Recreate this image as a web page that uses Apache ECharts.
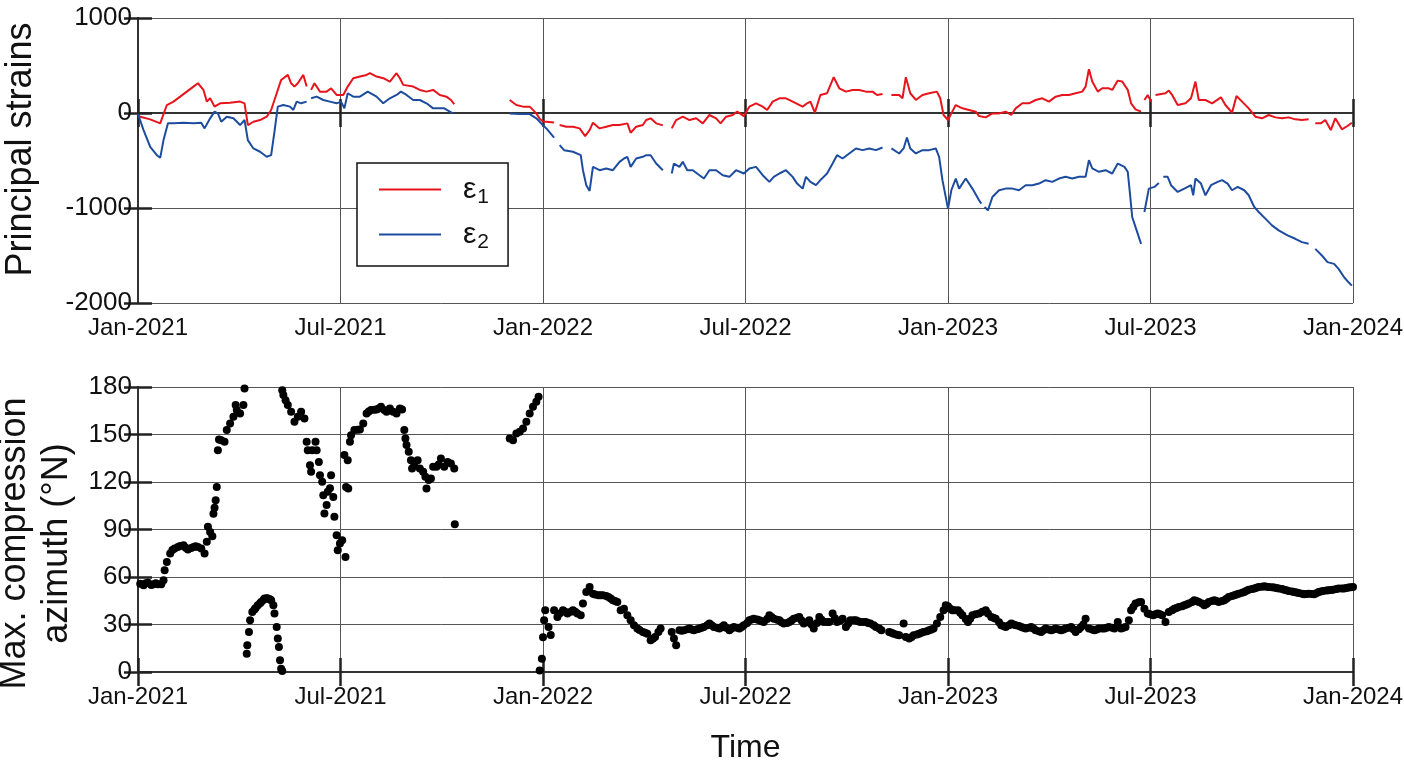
<!DOCTYPE html>
<html>
<head>
<meta charset="utf-8">
<script src="https://cdn.jsdelivr.net/npm/echarts@6/dist/echarts.min.js"></script>
<style>html,body{margin:0;padding:0;background:#fff}#c{width:1404px;height:769px}</style>
</head>
<body>
<div id="c"></div>
<script>
// x values are days since 2021-01-01
const xTickLabels = ['Jan-2021','Jul-2021','Jan-2022','Jul-2022','Jan-2023','Jul-2023','Jan-2024'];
const strainTicks = [-2000, -1000, 0, 1000];
const azimuthTicks = [0, 30, 60, 90, 120, 150, 180];

const eps1 = [[0,-30],[2,-39],[11,-67],[20,-109],[26,84],[32,120],[38,172],[44,225],[50,278],[54,313],[59,243],[62,120],[65,155],[69,67],[74,102],[83,109],[92,120],[96,102],[99,-127],[104,-92],[110,-74],[116,-39],[120,32],[125,208],[129,348],[135,401],[138,313],[141,278],[144,313],[149,401],[152,278],[153,null],[156,243],[159,313],[164,225],[170,225],[174,260],[179,190],[185,190],[189,278],[194,366],[200,384],[206,401],[209,419],[215,384],[221,366],[227,331],[233,419],[236,366],[239,296],[248,278],[254,243],[260,225],[266,243],[272,190],[278,172],[282,137],[285,92],[300,null],
[335,137],[341,84],[347,67],[353,67],[359,-4],[362,-60],[365,-90],[368,-92],[375,-99],[377,null],[380,-127],[386,-144],[392,-144],[398,-162],[403,-243],[407,-180],[410,-102],[416,-162],[422,-144],[428,-127],[434,-127],[441,-109],[444,-208],[449,-144],[455,-127],[458,-74],[462,-56],[467,-109],[473,-130],[478,null],
[481,-162],[485,-74],[491,-39],[497,-74],[503,-56],[509,-109],[515,-21],[521,-56],[525,-109],[530,-39],[536,-21],[540,14],[546,-32],[551,67],[557,102],[563,67],[567,32],[572,120],[578,155],[584,155],[590,120],[599,67],[603,102],[606,120],[610,4],[615,190],[621,208],[627,377],[632,260],[638,225],[644,243],[650,243],[656,225],[662,225],[666,190],[671,201],[675,null],
[679,190],[686,190],[689,155],[692,377],[696,208],[701,137],[707,190],[713,208],[720,225],[723,155],[726,-21],[730,-74],[733,-4],[737,84],[743,49],[749,32],[755,14],[758,-32],[764,-46],[770,-4],[776,-4],[782,14],[787,-21],[791,49],[797,102],[803,102],[809,137],[815,155],[821,120],[827,172],[833,190],[839,190],[845,208],[851,225],[854,278],[857,461],[860,331],[865,225],[869,260],[875,260],[878,243],[883,341],[887,331],[892,243],[895,102],[899,39],[904,14],[905,null],
[907,137],[910,190],[913,120],[915,null],[917,190],[926,208],[929,236],[932,190],[937,84],[944,102],[949,155],[953,331],[956,137],[962,137],[968,102],[976,165],[980,84],[986,4],[990,179],[995,120],[1001,49],[1007,-39],[1013,-56],[1019,-21],[1025,-46],[1031,-56],[1037,-46],[1043,-67],[1049,-74],[1055,-67],[1058,null],
[1061,-109],[1066,-109],[1070,-74],[1075,-180],[1079,-56],[1085,-172],[1090,-137],[1094,-102]];

const eps2 = [[0,-10],[5,-180],[11,-356],[17,-444],[20,-472],[23,-285],[27,-109],[32,-109],[41,-102],[50,-109],[57,-102],[60,-162],[65,-56],[69,14],[72,-4],[75,-92],[80,-39],[86,-56],[92,-127],[96,-74],[99,-285],[104,-373],[110,-408],[116,-461],[120,-444],[123,-197],[126,67],[131,84],[137,67],[140,32],[143,120],[147,102],[152,120],[153,null],[156,155],[161,172],[167,137],[173,120],[179,102],[183,120],[186,49],[189,208],[194,172],[200,172],[207,225],[215,172],[221,102],[227,155],[233,190],[237,225],[242,190],[248,137],[254,137],[260,102],[266,49],[270,49],[276,49],[281,14],[284,-4],[300,null],
[335,-4],[344,-11],[353,-11],[359,-56],[362,-92],[365,-130],[368,-162],[375,-260],[377,null],[380,-338],[384,-391],[392,-408],[399,-444],[401,-602],[404,-760],[407,-820],[410,-567],[416,-602],[422,-584],[428,-602],[434,-514],[438,-479],[441,-461],[444,-567],[449,-479],[455,-461],[458,-444],[462,-444],[467,-532],[473,-602],[478,null],
[481,-637],[483,-532],[488,-567],[491,-514],[495,-602],[500,-602],[506,-655],[510,-690],[515,-602],[521,-602],[527,-655],[533,-672],[539,-602],[546,-637],[551,-584],[557,-567],[563,-655],[569,-725],[573,-672],[578,-637],[584,-602],[590,-672],[594,-743],[599,-796],[602,-672],[606,-725],[611,-760],[615,-707],[621,-637],[626,-532],[630,-444],[635,-479],[641,-426],[647,-373],[653,-391],[659,-373],[665,-391],[671,-363],[675,null],
[679,-373],[686,-426],[690,-373],[693,-257],[696,-373],[701,-426],[707,-391],[713,-391],[719,-373],[722,-461],[725,-707],[730,-1007],[733,-813],[737,-690],[740,-796],[746,-690],[752,-796],[758,-919],[760,-954],[762,null],[763,-989],[766,-1025],[770,-884],[776,-813],[782,-796],[788,-796],[794,-813],[800,-760],[806,-760],[812,-743],[818,-707],[824,-725],[830,-690],[836,-672],[842,-690],[848,-672],[854,-672],[857,-496],[860,-584],[866,-619],[872,-602],[878,-637],[883,-532],[889,-567],[892,-619],[894,-848],[896,-1095],[900,-1236],[904,-1377],[905,null],
[907,-1042],[911,-796],[916,-778],[920,-736],[922,null],[924,-672],[928,-672],[931,-760],[937,-831],[943,-796],[949,-760],[951,-866],[953,-690],[958,-743],[962,-866],[967,-760],[973,-725],[977,-707],[982,-743],[986,-813],[991,-778],[997,-813],[1001,-866],[1006,-989],[1010,-1042],[1016,-1112],[1022,-1183],[1028,-1236],[1036,-1289],[1043,-1324],[1049,-1359],[1055,-1377],[1058,null],
[1061,-1430],[1067,-1500],[1072,-1570],[1078,-1588],[1082,-1641],[1087,-1729],[1091,-1782],[1094,-1817]];

const azimuth = [[2,55.8],[5,54.8],[7,56],[9,56.3],[12,55],[14,55.4],[16,56],[18,55.4],[21,55.4],[23,57.9],[24,64.3],[26,69.5],[29,74.8],[31,77],[33,78],[36,79],[38,79.6],[41,80],[43,78.5],[45,77.3],[48,78.3],[50,79],[52,79.5],[54,79],[57,78],[60,74.8],[62,82.2],[63,91.7],[65,88.5],[67,85.8],[68,100],[69,103.7],[70,108.5],[71,116.9],[72,140.1],[73,146.9],[75,146.4],[78,145.4],[80,152.8],[83,157],[86,161.2],[88,168.6],[89,165.4],[92,163.3],[95,168.6],[96,179.1],
[98,11.6],[98.5,16.9],[100,25.3],[101,32.7],[103,37.9],[105,39.4],[106,40.5],[108,42.1],[110,43.5],[111,44.2],[113,45.5],[114,46.4],[116,46.6],[117,46.4],[119,46],[120,45.3],[122,42.1],[123,36.9],[125,28.4],[126,21.1],[127,15.8],[128,7.4],[129,2.1],[130,0.6],
[130,178],[131,174.9],[133,171.7],[135,168.6],[138,164.3],[141,158],[144,161.2],[147,164.3],[150,160.1],[152,145.4],[153,140.1],[155,130.6],[156,126.4],[157,140.1],[160,145.4],[161,140.1],[163,132.7],[164,124.3],[166,120.1],[167,111.7],[168,100.1],[170,105.4],[171,113.8],[173,116],[174,124.3],[176,110.6],[177,98],[179,86.4],[180,76.9],[182,81.1],[184,83.2],[187,72.7],[186,137],[189,133.8],[187.5,116.9],[189.5,115.9],[191,145.4],[192,149.6],[195,152.8],[198,153],[200,153.2],[203,157],[206,163.3],[208,164.5],[210,165.4],[213,165.6],[215,165.8],[217,166.5],[219,167.5],[222,165.5],[224,164.3],[227,166.5],[230,164.3],[233,163.3],[236,166.5],[238,165.8],[240,152.8],[241,147.5],[242,143.3],[244,139.1],[246,133.8],[247,128.5],[249,130.6],[252,133.8],[254,128.5],[257,126.4],[259,123.3],[260,115.9],[262,121.2],[264,122.2],[266,129.6],[269,129.6],[271,131],[273,134.8],[276,129.6],[279,132.7],[282,131.7],[285,128.5],[285.5,93.3],
[335,147.5],[338,146.4],[341,150.6],[344,151.7],[347,153.8],[350,158],[353,163.3],[356,167.5],[359,170.7],[361,173.8],
[362,1],[364,8.4],[365,22],[366,32.7],[367,39],[370,28.4],[372,23.3],[375,39],[378,34.8],[380,37],[383,39],[385,38],[387,36.9],[390,38],[392,39],[394,38],[396,36.9],[399,35.8],[401,43.2],[404,50.6],[407,53.7],[410,49.5],[412,49],[415,48.5],[417,48.5],[419,48.5],[422,48],[424,47.4],[426,46.5],[428,45.3],[430,44.8],[432,44.2],[435,39],[438,40],[441,35.8],[444,32.7],[447,29.5],[450,27.4],[452,26.5],[455,25.3],[457,24.8],[459,24.2],[462,20],[464,21],[466,22.1],[469,25.3],[471,27.4],
[481,25.3],[483,21.1],[485,16.9],[488,26.3],[490,26],[492,26.3],[495,27],[497,27.4],[499,26.8],[501,26.3],[504,27],[506,27.4],[508,28],[510,28.4],[513,29.5],[515,30.6],[517,29.5],[519,28.4],[522,28],[524,27.4],[526,28.5],[528,29.5],[530,28],[533,26.3],[535,27.5],[537,28.4],[540,28],[542,27.4],[544,28.5],[546,29.5],[549,31],[551,32.7],[553,33.2],[555,33.7],[558,33.2],[560,32.7],[562,32],[564,31.6],[567,33.5],[569,35.8],[571,34.8],[573,33.7],[576,33],[578,32.7],[580,31.5],[582,30.6],[585,31],[587,31.6],[589,32.5],[591,33.7],[594,34.2],[596,34.8],[598,32.5],[600,30.6],[603,31.5],[605,32.7],[607,30],[609,27.4],[612,31],[614,34.8],[616,33],[618,31.6],[621,31.6],[623,31.6],[626,36.9],[628,34],[630,31.6],[633,32.5],[635,33.7],[638,28.4],[640,30.5],[642,32.7],[645,32.7],[647,32.7],[649,32],[651,31.6],[654,31.6],[656,31.6],[658,31],[660,30.6],[663,29.5],[665,28.4],[668,27.5],[670,26.3],
[677,25.3],[679,24.8],[681,24.2],[684,23.6],[686,23.2],[690,30.6],[692,22.1],[695,21.1],[697,22],[699,23.2],[702,23.7],[704,24.2],[706,24.8],[708,25.3],[711,25.8],[713,26.3],[715,26.8],[717,27.4],[720,30.6],[723,34.8],[726,39],[728,42.1],[730,41.5],[732,40],[734,39],[736,39],[739,39],[741,37.5],[743,35.8],[746,33.5],[748,31.6],[750,33.7],[752,35.8],[755,36.4],[758,36.9],[761,38],[764,39],[766,37],[769,34.8],[771,34.2],[773,33.7],[776,31.5],[778,29.5],[780,29],[782,28.4],[785,29.5],[787,30.6],[789,30],[791,29.5],[794,29],[796,28.4],[798,28],[800,27.4],[803,28],[805,28.4],[807,27.4],[809,26.3],[812,25.8],[814,25.3],[816,26.3],[818,27.4],[821,26.8],[823,26.3],[825,26.8],[827,27.4],[830,26.8],[832,26.3],[834,26.8],[836,27.4],[839,28],[841,28.4],[843,27],[845,25.3],[848,27],[850,28.4],[852,30],[854,33.7],[857,27.4],[860,26.8],[862,26.3],[864,26.8],[866,27.4],[869,27.4],[871,27.4],[873,28],[875,28.4],[878,28],[880,27.4],[883,31.6],[886,27.4],[888,28],[890,28.4],[893,32.7],[895,39],[897,41],[899,43.2],[902,44],[904,44.2],[907,40],[910,36.9],[912,36.4],[915,35.8],[917,36.4],[919,36.9],[921,36.4],[923,35.8],[926,31.6],[929,37.9],[932,39],[934,40],[936,40.5],[938,41.1],[941,41.6],[943,42.1],[945,42.7],[947,43.2],[950,44.2],[952,45.3],[954,44.8],[956,44.2],[959,43.2],[961,42.1],[963,43],[965,44.2],[968,44.8],[970,45.3],[972,44.8],[974,44.2],[977,44.8],[979,45.3],[981,46.3],[983,47.4],[986,48],[988,48.5],[990,49],[992,49.5],[995,50],[997,50.6],[999,51.3],[1001,52],[1004,52.4],[1006,52.7],[1008,53.2],[1010,53.7],[1013,53.9],[1015,54.1],[1017,53.9],[1019,53.7],[1022,53.5],[1024,53.3],[1026,53],[1028,52.7],[1031,52.4],[1033,52],[1035,51.6],[1037,51.2],[1040,50.9],[1042,50.6],[1044,50.2],[1046,49.9],[1049,49.5],[1051,49.1],[1053,49.3],[1055,49.5],[1058,49.3],[1060,49.1],[1062,49.8],[1064,50.6],[1066,50.9],[1068,51.2],[1071,51.4],[1073,51.6],[1075,51.8],[1077,52],[1080,52.4],[1082,52.7],[1085,52.7],[1087,52.7],[1089,53],[1091,53.3],[1093,53.5],[1095,53.7]];

const FONT = 'Liberation Sans, Arial, Helvetica, sans-serif';
const DAY_INT = 182.5;
const xFmt = v => xTickLabels[Math.round(v / DAY_INT)] || '';
const axisLineStyle = { color: '#333', width: 2 };
const tickStyle = { color: '#222', width: 2.5 };
const gridLine = { color: '#555', width: 1 };
const GRIDS = [
  { left: 138, right: 51, top: 18, height: 285, containLabel: false, outerBoundsMode: 'none' },
  { left: 138, right: 51, top: 387, height: 285, containLabel: false, outerBoundsMode: 'none' }
];

function xAxes(gi, withName) {
  return [
    { gridIndex: gi, type: 'value', min: 0, max: 1095, interval: DAY_INT, position: 'bottom',
      axisLine: { lineStyle: axisLineStyle }, axisTick: { inside: true, length: 14, lineStyle: tickStyle },
      splitLine: { show: true, lineStyle: gridLine },
      axisLabel: { formatter: xFmt, fontSize: 24, fontFamily: FONT, color: '#111', margin: 13 },
      name: withName ? 'Time' : '', nameLocation: 'middle', nameGap: 60,
      nameTextStyle: { fontSize: 32, fontFamily: FONT, color: '#111' } },
    { gridIndex: gi, type: 'value', min: 0, max: 1095, interval: DAY_INT, position: 'top',
      axisLine: { lineStyle: axisLineStyle }, axisTick: { inside: true, length: 14, lineStyle: tickStyle },
      splitLine: { show: false }, axisLabel: { show: false } }
  ];
}
function yAxes(gi, min, max, interval, name, nameGap, lh, namePad) {
  return [
    { gridIndex: gi, type: 'value', min, max, interval, position: 'left',
      axisLine: { show: true, lineStyle: axisLineStyle }, axisTick: { show: true, inside: true, length: 14, lineStyle: tickStyle },
      splitLine: { show: true, lineStyle: gridLine },
      axisLabel: { formatter: v => String(v), fontSize: 26, fontFamily: FONT, color: '#111', margin: 6 },
      name, nameLocation: 'middle', nameGap, nameRotate: 90,
      nameTextStyle: { fontSize: 36, fontFamily: FONT, color: '#111', lineHeight: lh, padding: namePad } },
    { gridIndex: gi, type: 'value', min, max, interval, position: 'right',
      axisLine: { show: true, lineStyle: axisLineStyle }, axisTick: { show: true, inside: true, length: 14, lineStyle: tickStyle },
      splitLine: { show: false }, axisLabel: { show: false } }
  ];
}

const chart = echarts.init(document.getElementById('c'), null, { renderer: 'canvas' });
chart.setOption({
  animation: false,
  backgroundColor: '#fff',
  grid: GRIDS,
  xAxis: [...xAxes(0, false), ...xAxes(1, true)],
  yAxis: [
    ...yAxes(0, -2000, 1000, 1000, 'Principal strains', 98, 38, [0, 0, 0, 22]),
    ...yAxes(1, 0, 180, 30, 'Max. compression\nazimuth (°N)', 46, 42, [0, 28, 0, 0])
  ],
  legend: {
    data: ['ε1', 'ε2'], orient: 'vertical', left: 357, top: 163,
    backgroundColor: '#fff', borderColor: '#111', borderWidth: 1.5,
    padding: [8, 19, 13, 22], itemGap: 8, itemWidth: 62, itemHeight: 2, icon: 'rect',
    formatter: n => '{e|ε}{s|' + n.slice(1) + '}',
    textStyle: { padding: [0, 0, 0, 17], rich: {
      e: { fontSize: 30, fontFamily: FONT, color: '#111', lineHeight: 34 },
      s: { fontSize: 21, fontFamily: FONT, color: '#111', lineHeight: 34, padding: [16, 0, 0, 1] }
    } }
  },
  series: [
    { name: 'ε1', type: 'line', xAxisIndex: 0, yAxisIndex: 0, data: eps1, showSymbol: false, symbol: 'none',
      lineStyle: { color: '#e8141c', width: 2 }, itemStyle: { color: '#e8141c' }, connectNulls: false, z: 3 },
    { name: 'ε2', type: 'line', xAxisIndex: 0, yAxisIndex: 0, data: eps2, showSymbol: false, symbol: 'none',
      lineStyle: { color: '#1d4c9f', width: 2 }, itemStyle: { color: '#1d4c9f' }, connectNulls: false, z: 3 },
    { name: 'azimuth', type: 'scatter', xAxisIndex: 2, yAxisIndex: 2, data: azimuth,
      symbolSize: 8, itemStyle: { color: '#000', opacity: 1 }, z: 3 }
  ]
});
</script>
</body>
</html>
